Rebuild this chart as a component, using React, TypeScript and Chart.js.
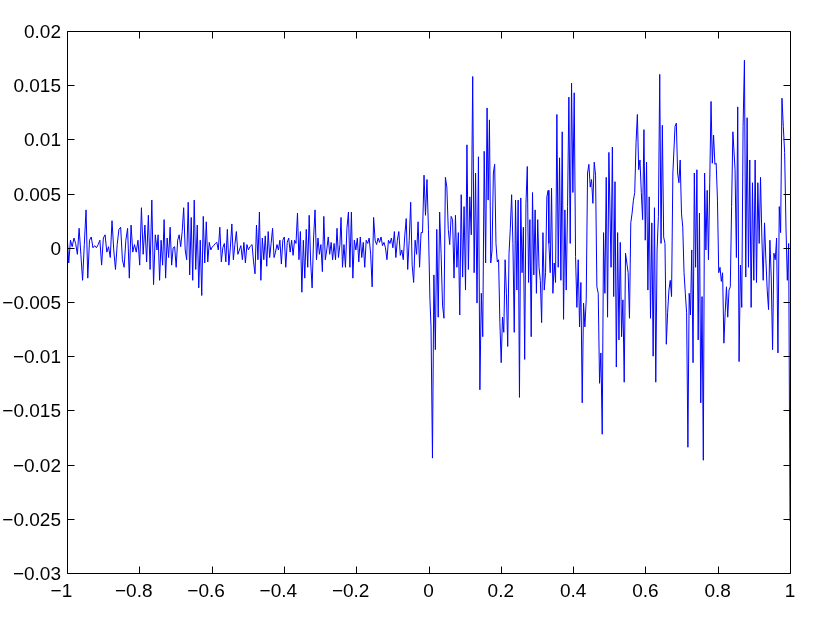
import { useEffect, useRef } from "react";
import { Chart, registerables } from "chart.js";

Chart.register(...registerables);

// Tick values and their labels
const xTickValues = [-1, -0.8, -0.6, -0.4, -0.2, 0, 0.2, 0.4, 0.6, 0.8, 1];
const xTickLabels = ["−1", "−0.8", "−0.6", "−0.4", "−0.2", "0", "0.2", "0.4", "0.6", "0.8", "1"];
const yTickValues = [0.02, 0.015, 0.01, 0.005, 0, -0.005, -0.01, -0.015, -0.02, -0.025, -0.03];
const yTickLabels = ["0.02", "0.015", "0.01", "0.005", "0", "−0.005", "−0.01", "−0.015", "−0.02", "−0.025", "−0.03"];

// Signal samples, in consecutive stretches of the x range
const segStart = [-1.0, -0.748, -0.488, -0.242, 0.007, 0.165, 0.333, 0.505, 0.682, 0.848];
const segEnd = [-0.751, -0.494, -0.245, 0.004, 0.162, 0.331, 0.499, 0.676, 0.842, 1.0];

const segA = [0.0014, -0.0014, 0.0007, 0.0001, 0.0009, 0.0004, -0.0006, 0.0018, -0.0006, -0.003, 0.0003, 0.0035, -0.0028, 0.0007, 0.001, 0, 0.0002, 0, 0.0003, 0.0007, -0.0016, 0.0009, 0.0012, -0.0004, 0.0001, -0.0009, 0.0025, -0.0002, -0.002, 0.0003, 0.0017, 0.0019, -0.0011, -0.0018, 0.0007, 0.0018, -0.0028, 0.0021, -0.0004, 0.0003, -0.0004, 0.0007, -0.0016, 0.0037, -0.0006, 0.0021, -0.0013, 0.003, -0.002, 0.0044, -0.0034, 0.0012, -0.0002];
const segB = [0.0012, -0.003, 0.0007, -0.0016, 0.0026, -0.0028, 0.0009, -0.0009, 0.0019, -0.0016, 0, 0.0001, -0.0018, 0.0007, 0.0012, 0.0001, 0.0015, 0.0037, -0.0002, -0.0011, 0.0042, -0.0025, 0.0028, -0.003, 0.0044, -0.002, 0.0021, -0.0037, 0.0007, -0.0044, 0.0029, -0.0014, 0.0024, -0.0013, 0.0005, -0.0002, 0.0001, 0.0002, 0.0004, 0.0005, -0.0002, 0.0019, -0.0013, 0, 0.0004, -0.0013, 0.0017, -0.0016, 0, 0.0022, -0.0011, 0.0003, 0.0015, -0.0006, -0.0002, 0.0002, -0.0011, 0.0005, -0.0014, 0.0003, -0.0002, 0.0001];
const segC = [0.0003, -0.0013, -0.0024, 0.0021, -0.0011, 0.0033, -0.003, 0.0009, -0.0011, 0.0011, -0.0017, 0.0015, -0.0009, 0.0004, 0.0018, -0.0009, -0.0004, 0.0003, -0.0002, 0.0007, -0.0015, 0.0007, 0.001, -0.0018, 0.0005, 0.0009, -0.0004, 0.0007, -0.0007, 0.0007, 0.0004, 0.0032, -0.0011, 0.0015, -0.0041, 0.0007, -0.0028, 0.0017, -0.0018, 0.003, -0.0013, -0.0037, 0.0009, 0.0035, -0.0011, 0.0009, -0.0006, 0.0003, -0.0022, 0.0029, -0.0011, -0.0002, 0.001, -0.0006, 0.0005, -0.0011, 0.0004, -0.0011, 0.0018, -0.0009, 0.0003];
const segD = [0.0028, -0.0018, 0.0003, -0.0018, 0.0018, 0.0033, -0.0018, 0.0033, -0.0028, 0.0007, -0.0002, 0.0009, -0.0013, 0.001, -0.0009, 0.0005, -0.0018, 0.0007, 0.0004, 0.0009, -0.0006, -0.0036, 0.0028, 0.0007, 0.0003, 0.0009, 0.0005, 0.001, 0.0002, 0.0005, 0, -0.0011, 0.0007, 0.0004, 0.0009, 0, 0.0015, -0.0009, 0.0007, 0.0015, -0.0007, -0.0002, -0.0011, 0.0011, 0.0027, -0.002, 0.0007, 0.0042, -0.0016, -0.0032, 0.0007, -0.0006, 0.0024, -0.0018, 0.0014, 0.0014, 0.0067, 0.003, 0.0063, 0.0017, -0.0048];
const segE = [-0.0073, -0.0194, -0.0025, -0.0094, 0.0017, -0.0064, 0.0033, -0.0005, -0.0053, -0.0065, 0.0065, 0.0056, 0.0017, 0.0003, 0.0029, 0.0026, -0.0028, 0.003, -0.0018, 0.0014, -0.0062, 0.0049, -0.0027, 0.0038, -0.0039, 0.0095, -0.002, 0.0047, 0.0012, 0.0158, -0.0023, 0.0069, -0.0051, 0.0084, -0.0131, -0.0042, -0.0082, 0.0089, -0.0014, 0.0129];
const segF = [0.0044, 0.0118, -0.0014, -0.0002, 0.0069, 0.0077, 0.0004, -0.0013, -0.0011, -0.0069, -0.0106, -0.0064, -0.0078, -0.0011, -0.0042, -0.0091, -0.0005, 0.0018, 0.0049, 0.0004, -0.0078, 0.0044, -0.0039, 0.0044, -0.0138, 0.0046, -0.0023, 0.0019, -0.0103, 0.0041, 0.0075, -0.0032, 0.0026, -0.0082, 0.0051, -0.0025, 0.0035, -0.0042, 0.0026, -0.0018, -0.003, -0.0069, 0.0014, -0.0039, -0.0023, 0.0047, 0.0053];
const segG = [0.0004, -0.0023, 0.0055, -0.0042, -0.0014, -0.0032, 0.0123, -0.0018, 0.0083, -0.003, 0.0107, -0.0066, 0.0035, -0.0039, 0.0038, 0.0139, 0.0004, 0.0152, 0.0051, 0.0143, -0.0008, -0.0055, -0.0011, -0.0073, -0.0032, -0.0143, -0.0051, -0.0073, -0.0048, 0.0069, 0.0077, 0.0056, 0.0063, 0.0041, 0.0079, 0.0067, -0.0036, -0.0042, -0.0125, -0.0097, -0.0172, 0.0014, -0.0042, 0.0065, -0.0064, 0.0088];
const segH = [-0.0018, 0.0093, -0.0045, 0.0061, -0.011, 0.0014, -0.0085, 0.0005, -0.0082, -0.0048, -0.0124, -0.0005, -0.0014, -0.0023, -0.0065, 0.0023, 0.0032, 0.0044, 0.0051, 0.0097, 0.0123, 0.0072, 0.0081, 0.0051, 0.0026, 0.0109, 0.0007, 0.0079, -0.0039, 0.0047, -0.0065, 0.0023, -0.01, 0.0037, -0.0124, -0.0002, 0.0029, 0.016, 0.0004, 0.0113, 0.001, 0.0004, -0.0089, -0.006, -0.0039, -0.003, -0.0045, 0.0069];
const segI = [0.0112, 0.0115, 0.0069, 0.006, 0.0081, 0.0032, 0.0019, -0.0023, -0.0042, -0.006, -0.0184, -0.0042, -0.0062, -0.0002, -0.0106, 0.0069, -0.0018, 0.0072, -0.0085, 0.0032, -0.0143, -0.0045, -0.0196, 0.0069, -0.0002, 0.0053, -0.0011, 0.006, 0.0135, 0.0078, 0.0104, 0.0077, 0.0078, 0.0044, -0.0023, -0.0018, -0.0031, -0.0023, -0.0088, -0.006, -0.0036, -0.0064, -0.0039, -0.0036, 0.0038, 0.0107];
const segJ = [0.0072, -0.0009, 0.013, -0.0105, -0.0016, -0.0055, 0.0112, 0.0173, -0.0027, 0.012, -0.0018, 0.0081, -0.0055, 0.006, -0.003, 0.0081, -0.0032, 0.006, 0.0004, 0.0065, 0.001, -0.003, 0.0023, -0.0011, -0.0039, -0.0057, 0.0007, -0.0027, -0.0094, -0.0005, -0.0011, 0.0009, -0.0097, 0.0038, 0.0014, 0.0138, 0.0112, 0.0088, 0.0019, -0.003, 0.0004, -0.0252];

const segments = [segA, segB, segC, segD, segE, segF, segG, segH, segI, segJ];

function buildPoints() {
  const pts: { x: number; y: number }[] = [];
  segments.forEach((seg, k) => {
    const a = segStart[k];
    const b = segEnd[k];
    const n = seg.length;
    seg.forEach((v, i) => {
      pts.push({ x: a + ((b - a) * i) / (n - 1), y: v });
    });
  });
  return pts;
}

const FONT = "19px 'Liberation Sans', Arial, Helvetica, sans-serif";

const matlabAxes = {
  id: "matlabAxes",
  afterDraw(chart: any) {
    const { ctx, chartArea } = chart;
    const xs = chart.scales.x;
    const ys = chart.scales.y;
    const L = Math.round(chartArea.left) + 0.5;
    const R = Math.round(chartArea.right) + 0.5;
    const T = Math.round(chartArea.top) + 0.5;
    const B = Math.round(chartArea.bottom) + 0.5;
    ctx.save();
    ctx.strokeStyle = "#000";
    ctx.lineWidth = 1;
    ctx.beginPath();
    ctx.moveTo(L, T);
    ctx.lineTo(R, T);
    ctx.lineTo(R, B);
    ctx.lineTo(L, B);
    ctx.closePath();
    const tl = 7;
    xTickValues.forEach((v) => {
      const p = Math.round(xs.getPixelForValue(v)) + 0.5;
      ctx.moveTo(p, B);
      ctx.lineTo(p, B - tl);
      ctx.moveTo(p, T);
      ctx.lineTo(p, T + tl);
    });
    yTickValues.forEach((v) => {
      const p = Math.round(ys.getPixelForValue(v)) + 0.5;
      ctx.moveTo(L, p);
      ctx.lineTo(L + tl, p);
      ctx.moveTo(R, p);
      ctx.lineTo(R - tl, p);
    });
    ctx.stroke();

    ctx.fillStyle = "#000";
    ctx.font = FONT;
    ctx.textBaseline = "alphabetic";
    // y labels, right aligned
    ctx.textAlign = "right";
    yTickValues.forEach((v, i) => {
      const p = ys.getPixelForValue(v);
      ctx.fillText(yTickLabels[i], chartArea.left - 6, p + 7);
    });
    // x labels: numeric part centred on the tick, minus sign hanging left
    ctx.textAlign = "left";
    xTickValues.forEach((v, i) => {
      const p = xs.getPixelForValue(v);
      const lab = xTickLabels[i];
      const neg = lab.startsWith("−");
      const num = neg ? lab.slice(1) : lab;
      const w = ctx.measureText(num).width;
      const x0 = p - w / 2;
      const y0 = chartArea.bottom + 24;
      ctx.fillText(num, x0, y0);
      if (neg) {
        const mw = ctx.measureText("−").width;
        ctx.fillText("−", x0 - mw, y0);
      }
    });
    ctx.restore();
  },
};

export default function App() {
  const ref = useRef<HTMLCanvasElement | null>(null);
  useEffect(() => {
    document.body.style.margin = "0";
    const canvas = ref.current;
    if (!canvas) return;
    const chart = new Chart(canvas, {
      type: "line",
      data: {
        datasets: [
          {
            data: buildPoints(),
            borderColor: "#0000ff",
            borderWidth: 1,
            pointRadius: 0,
            fill: false,
            tension: 0,
          },
        ],
      },
      options: {
        animation: false,
        responsive: false,
        devicePixelRatio: 1,
        layout: { padding: { top: 31, right: 40, left: 0, bottom: 0 } },
        plugins: { legend: { display: false }, tooltip: { enabled: false } },
        scales: {
          x: {
            type: "linear",
            min: -1,
            max: 1,
            grid: { display: false, drawTicks: false },
            border: { display: false },
            ticks: { display: false },
            afterFit: (s: any) => {
              s.height = 52;
            },
          },
          y: {
            type: "linear",
            min: -0.03,
            max: 0.02,
            grid: { display: false, drawTicks: false },
            border: { display: false },
            ticks: { display: false },
            afterFit: (s: any) => {
              s.width = 67;
            },
          },
        },
      },
      plugins: [matlabAxes],
    });
    return () => chart.destroy();
  }, []);
  return (
    <div style={{ position: "fixed", left: 0, top: 0, width: 830, height: 625, background: "#fff" }}>
      <canvas ref={ref} width={830} height={625} style={{ display: "block" }} />
    </div>
  );
}
